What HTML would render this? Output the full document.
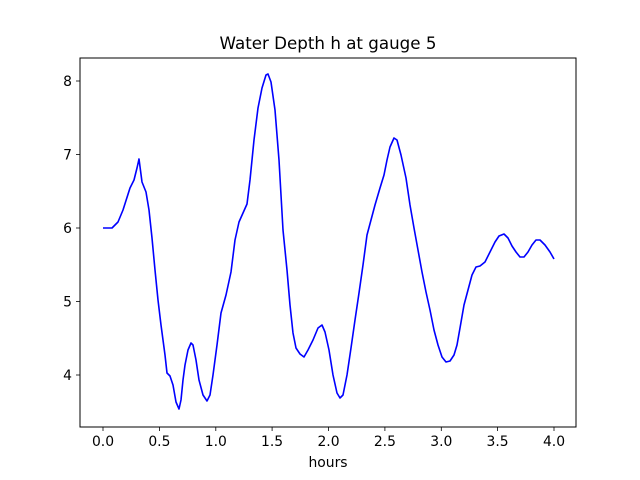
<!DOCTYPE html>
<html><head><meta charset="utf-8"><style>body{margin:0;background:#fff}svg{display:block}text{font-family:"DejaVu Sans","Liberation Sans",sans-serif;font-size:13.9px;fill:#000}</style></head>
<body>
<svg width="640" height="480" viewBox="0 0 640 480">
<rect width="640" height="480" fill="#fff"/>
<polyline fill="none" stroke="#0000ff" stroke-width="1.6" stroke-linejoin="round" points="103,228 112,228 118,222 123,210 130,188 134,180 137,168 139,159 142,182 146,192 149,210 152,238 155,270 158,300 161,325 163,340 165,355 167,373 170,376 173,385 176,402 179,409 181,400 183,380 185,365 188,350 191,343 193,345 196,360 199,380 203,395 207,401 210,395 213,375 217,345 221,313 226,295 231,272 235,240 239,222 243,213 247,204 250,180 254,140 258,108 262,88 266,75 268,74 271,82 275,110 279,160 283,230 287,270 290,305 293,333 296,348 300,354 304,357 308,350 313,340 318,328 322,325 325,332 329,350 333,375 337,393 340,398 343,395 347,375 351,348 355,320 359,293 363,265 367,235 371,220 375,205 380,188 384,175 387,160 390,147 394,138 397,140 401,155 406,178 410,205 414,228 418,250 422,272 426,292 430,310 434,330 438,345 442,357 446,362 450,361 454,355 457,345 460,328 464,305 468,290 472,275 476,267 480,266 485,262 490,252 495,242 499,236 504,234 508,238 512,246 516,252 520,257 524,257 528,252 532,245 536,240 540,240 545,245 550,252 554,259"/>
<rect x="80" y="58" width="496" height="369" fill="none" stroke="#000" stroke-width="1"/>
<g stroke="#000" stroke-width="0.8">
<line x1="103" y1="427" x2="103" y2="431"/><line x1="159.4" y1="427" x2="159.4" y2="431"/><line x1="215.8" y1="427" x2="215.8" y2="431"/><line x1="272.1" y1="427" x2="272.1" y2="431"/><line x1="328.5" y1="427" x2="328.5" y2="431"/><line x1="384.9" y1="427" x2="384.9" y2="431"/><line x1="441.3" y1="427" x2="441.3" y2="431"/><line x1="497.6" y1="427" x2="497.6" y2="431"/><line x1="554" y1="427" x2="554" y2="431"/>
<line x1="76" y1="81" x2="80" y2="81"/><line x1="76" y1="154.5" x2="80" y2="154.5"/><line x1="76" y1="228" x2="80" y2="228"/><line x1="76" y1="301.5" x2="80" y2="301.5"/><line x1="76" y1="375" x2="80" y2="375"/>
</g>
<g text-anchor="middle">
<text x="103" y="446">0.0</text><text x="159.4" y="446">0.5</text><text x="215.8" y="446">1.0</text><text x="272.1" y="446">1.5</text><text x="328.5" y="446">2.0</text><text x="384.9" y="446">2.5</text><text x="441.3" y="446">3.0</text><text x="497.6" y="446">3.5</text><text x="554" y="446">4.0</text>
<text x="328" y="467">hours</text>
<text x="328" y="49" style="font-size:16.7px">Water Depth h at gauge 5</text>
</g>
<g text-anchor="end">
<text x="72" y="86">8</text><text x="72" y="159.5">7</text><text x="72" y="233">6</text><text x="72" y="306.5">5</text><text x="72" y="380">4</text>
</g>
</svg>
</body></html>
